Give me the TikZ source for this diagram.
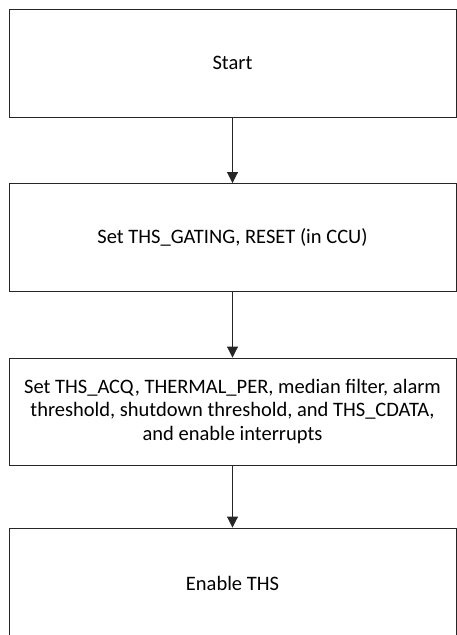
\documentclass[tikz,border=0pt]{standalone}
\usepackage{fontspec}
\setmainfont{Carlito}
\usetikzlibrary{arrows.meta}
\begin{document}
\begin{tikzpicture}[x=1pt,y=-1pt,
  stepbox/.style={draw=black!85,line width=0.9pt,minimum width=447pt,minimum height=108pt,
    inner sep=0pt,align=center,font=\fontsize{20.5}{23.5}\selectfont},
  flow/.style={draw=black!85,line width=0.9pt,-{Triangle[length=11pt,width=11pt]}}]
\useasboundingbox (0,0) rectangle (457,635);
\begin{scope}
\clip (0,0) rectangle (457,635);
\node[stepbox] (a) at (232.5,63) {Start};
\node[stepbox] (b) at (232.5,237.5) {Set THS\_GATING, RESET (in CCU)};
\node[stepbox,minimum height=107pt] (c) at (232.5,411.5) {Set THS\_ACQ, THERMAL\_PER, median filter, alarm\\threshold, shutdown threshold, and THS\_CDATA,\\and enable interrupts};
\node[stepbox,minimum height=110pt] (d) at (232.5,583) {Enable THS};
\draw[flow] (a) -- (b);
\draw[flow] (b) -- (c);
\draw[flow] (c) -- (d);
\end{scope}
\end{tikzpicture}
\end{document}
